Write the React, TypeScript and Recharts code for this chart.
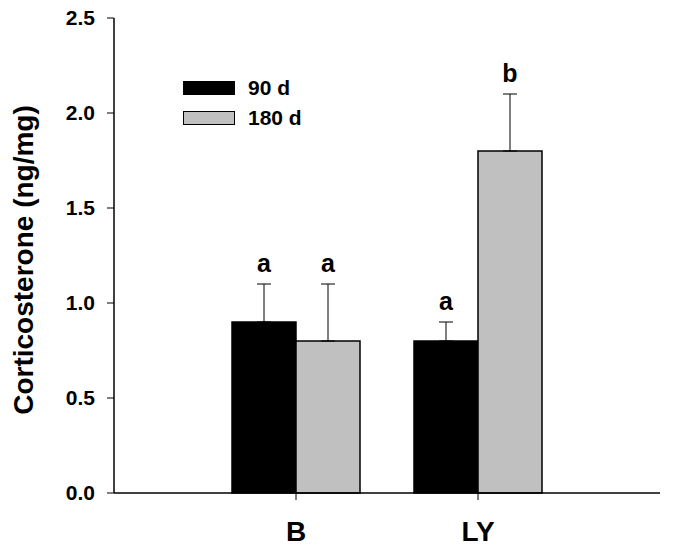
import React from 'react';
import { BarChart, Bar, XAxis, YAxis, ErrorBar, LabelList } from 'recharts';

const groups = ['B', 'LY'];
const mean90 = [0.9, 0.8];
const mean180 = [0.8, 1.8];
const err90 = [0.2, 0.1];
const err180 = [0.3, 0.3];
const sig90 = ['a', 'a'];
const sig180 = ['a', 'b'];
const yTicks = [0, 0.5, 1.0, 1.5, 2.0, 2.5];

const series = [
  { key: 'd90', name: '90 d', fill: '#000000', means: mean90, errs: err90, sig: 's90', err: 'e90' },
  { key: 'd180', name: '180 d', fill: '#c0c0c0', means: mean180, errs: err180, sig: 's180', err: 'e180' },
];

const data = groups.map((g, i) => ({
  group: g,
  d90: mean90[i],
  d180: mean180[i],
  e90: [0, err90[i]],
  e180: [0, err180[i]],
  s90: sig90[i],
  s180: sig180[i],
}));

const font = '"Liberation Sans", Arial, sans-serif';

// letters sit just above the error bar cap
const sigLabel = (means: number[], errs: number[]) => (props: any) => {
  const { x, y, width, height, index, value } = props;
  const pxPerUnit = Number(height) / means[index];
  const top = Number(y) - errs[index] * pxPerUnit;
  return (
    <text x={Number(x) + Number(width) / 2} y={top - 12} textAnchor="middle"
      fontSize={25} fontWeight="bold" fontFamily={font} fill="#000">
      {value}
    </text>
  );
};

const App: React.FC = () => {
  return (
    <div style={{ position: 'absolute', left: 0, top: 0, width: 679, height: 559, background: '#fff' }}>
      <BarChart width={679} height={559} data={data} barGap={0} barSize={64}
        margin={{ top: 18, right: 19, bottom: 0, left: 0 }}>
        <XAxis dataKey="group" height={66} padding={{ left: 91, right: 91 }} interval={0}
          axisLine={{ stroke: '#000', strokeWidth: 1.5 }} tickLine={{ stroke: '#000' }}
          tickSize={7} tickMargin={21}
          tick={{ fontSize: 28, fontWeight: 'bold', fill: '#000', fontFamily: font }} />
        <XAxis xAxisId="top" orientation="top" dataKey="group" height={0} tick={false} tickLine={false}
          axisLine={{ stroke: '#000', strokeWidth: 1.5 }} />
        <YAxis width={114} domain={[0, 2.5]} ticks={yTicks} interval={0}
          tickFormatter={(v: number) => v.toFixed(1)}
          axisLine={{ stroke: '#000', strokeWidth: 1.5 }} tickLine={{ stroke: '#000' }}
          tickSize={7} tickMargin={12}
          tick={{ fontSize: 21, fontWeight: 'bold', fill: '#000', fontFamily: font }}
          label={{
            content: () => (
              <text x={23} y={260} transform="rotate(-90, 23, 260)" textAnchor="middle"
                dominantBaseline="central" fontSize={28} fontWeight="bold" fontFamily={font} fill="#000">
                Corticosterone (ng/mg)
              </text>
            ),
          }} />
        <YAxis yAxisId="right" orientation="right" width={0} domain={[0, 2.5]} tick={false} tickLine={false}
          axisLine={{ stroke: '#000', strokeWidth: 1.5 }} />
        {series.map((s) => (
          <Bar key={s.key} dataKey={s.key} name={s.name} fill={s.fill} stroke="#000" strokeWidth={1.5}
            isAnimationActive={false}>
            <ErrorBar dataKey={s.err} width={7} stroke="#000" strokeWidth={1} direction="y" />
            <LabelList dataKey={s.sig} content={sigLabel(s.means, s.errs)} />
          </Bar>
        ))}
      </BarChart>
      <div style={{ position: 'absolute', left: 183, top: 73, fontFamily: font }}>
        {series.map((s) => (
          <div key={s.key} style={{ display: 'flex', alignItems: 'center', height: 30 }}>
            <div style={{ width: 50, height: 12, background: s.fill, border: '1px solid #000' }} />
            <span style={{ marginLeft: 13, fontSize: 21, fontWeight: 'bold', color: '#000' }}>{s.name}</span>
          </div>
        ))}
      </div>
    </div>
  );
};

export default App;
